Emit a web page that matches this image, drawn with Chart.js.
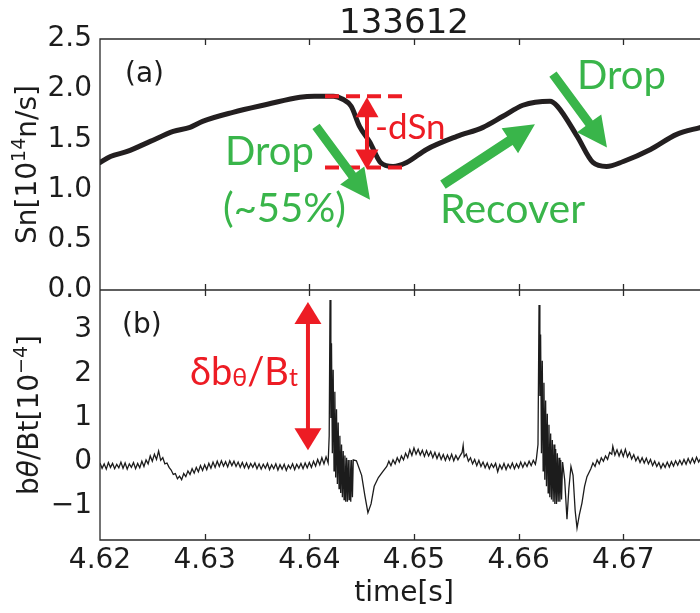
<!DOCTYPE html>
<html>
<head>
<meta charset="utf-8">
<script src="https://cdn.jsdelivr.net/npm/chart.js@4"></script>
<style>
  html, body { margin: 0; padding: 0; background: #fff; }
  #wrap { width: 700px; height: 613px; }
</style>
</head>
<body>
<div id="wrap"><canvas id="c" width="700" height="613"></canvas></div>
<script>
const SHOT = '133612';

// (a) neutron rate Sn [1e14 n/s]
const snTime = [4.6200, 4.6210, 4.6226, 4.6248, 4.6270, 4.6286, 4.6298, 4.6327, 4.6360, 4.6391,
  4.6405, 4.6423, 4.6432, 4.6440, 4.6448, 4.6458, 4.6468, 4.6480, 4.6493, 4.6512,
  4.6541, 4.6566, 4.6585, 4.6604, 4.6630, 4.6637, 4.6656, 4.6671, 4.6684, 4.6700,
  4.6726, 4.6751, 4.6774];
const snVal = [1.27, 1.33, 1.38, 1.48, 1.58, 1.62, 1.68, 1.77, 1.85, 1.92,
  1.93, 1.93, 1.90, 1.83, 1.63, 1.47, 1.27, 1.23, 1.27, 1.40,
  1.53, 1.62, 1.73, 1.84, 1.88, 1.83, 1.53, 1.27, 1.23, 1.28,
  1.40, 1.55, 1.62];

// (b) b_theta/Bt [1e-4]
const bTime = [
  // quiet stretch before the first burst
  4.6200, 4.6202, 4.6204, 4.6206, 4.6208, 4.6210, 4.6212, 4.6214, 4.6216, 4.6218,
  4.6220, 4.6222, 4.6224, 4.6226, 4.6228, 4.6230, 4.6232, 4.6234, 4.6236, 4.6238,
  4.6240, 4.6242, 4.6244, 4.6246, 4.6248, 4.6250, 4.6252, 4.6254, 4.6256, 4.6258,
  4.6260, 4.6262, 4.6264, 4.6266, 4.6268, 4.6270, 4.6272, 4.6274, 4.6276, 4.6278,
  4.6280, 4.6282, 4.6284, 4.6286, 4.6288, 4.6290, 4.6292, 4.6294, 4.6296, 4.6298,
  4.6300, 4.6302, 4.6304, 4.6306, 4.6308, 4.6310, 4.6312, 4.6314, 4.6316, 4.6318,
  4.6320, 4.6322, 4.6324, 4.6326, 4.6328, 4.6330, 4.6332, 4.6334, 4.6336, 4.6338,
  4.6340, 4.6342, 4.6344, 4.6346, 4.6348, 4.6350, 4.6352, 4.6354, 4.6356, 4.6358,
  4.6360, 4.6362, 4.6364, 4.6366, 4.6368, 4.6370, 4.6372, 4.6374, 4.6376, 4.6378,
  4.6380, 4.6382, 4.6384, 4.6386, 4.6388, 4.6390, 4.6392, 4.6394, 4.6396, 4.6398,
  4.6400, 4.6402, 4.6404, 4.6406, 4.6408, 4.6410, 4.6412, 4.6414, 4.6416, 4.6418,
  // first burst
  4.64190, 4.64198, 4.64206, 4.64212, 4.64220, 4.64228, 4.64236, 4.64244, 4.64252, 4.64260,
  4.64268, 4.64276, 4.64284, 4.64292, 4.64300, 4.64308, 4.64316, 4.64324, 4.64332, 4.64340,
  4.64348, 4.64356, 4.64364, 4.64372, 4.64380, 4.64388, 4.64396, 4.64404, 4.64412, 4.64420,
  4.64450, 4.64500, 4.64530, 4.64560, 4.64590, 4.64620, 4.64660, 4.64700,
  // between bursts
  4.6474, 4.6476, 4.6478, 4.6480, 4.6482, 4.6484, 4.6486, 4.6488, 4.6490, 4.6492,
  4.6494, 4.6496, 4.6498, 4.6500, 4.6502, 4.6504, 4.6506, 4.6508, 4.6510, 4.6512,
  4.6514, 4.6516, 4.6518, 4.6520, 4.6522, 4.6524, 4.6526, 4.6528, 4.6530, 4.6532,
  4.6534, 4.6536, 4.6538, 4.6540, 4.6542, 4.6544, 4.6546, 4.6547, 4.6548, 4.6550,
  4.6552, 4.6554, 4.6556, 4.6558, 4.6560, 4.6562, 4.6564, 4.6566, 4.6568, 4.6570,
  4.6572, 4.6574, 4.6576, 4.6578, 4.6580, 4.6582, 4.6584, 4.6586, 4.6588, 4.6590,
  4.6592, 4.6594, 4.6596, 4.6598, 4.6600, 4.6602, 4.6604, 4.6606, 4.6608, 4.6610,
  4.6612, 4.6614, 4.6616, 4.6617,
  // second burst
  4.66185, 4.66195, 4.66203, 4.66210, 4.66218, 4.66226, 4.66234, 4.66242, 4.66250, 4.66258,
  4.66266, 4.66274, 4.66282, 4.66290, 4.66298, 4.66306, 4.66314, 4.66322, 4.66330, 4.66338,
  4.66346, 4.66354, 4.66362, 4.66370, 4.66378, 4.66386, 4.66394, 4.66402, 4.66410, 4.66420,
  4.66440, 4.66462, 4.66480, 4.66500, 4.66520, 4.66540, 4.66558, 4.66580, 4.66605, 4.66630,
  4.66653,
  // tail
  4.6669, 4.6671, 4.6673, 4.6675, 4.6677, 4.6679, 4.6681, 4.6683, 4.6685, 4.6687,
  4.6689, 4.6690, 4.6692, 4.6694, 4.6696, 4.6698, 4.6700, 4.6702, 4.6704, 4.6706,
  4.6708, 4.6710, 4.6712, 4.6714, 4.6716, 4.6718, 4.6720, 4.6722, 4.6724, 4.6726,
  4.6728, 4.6730, 4.6732, 4.6734, 4.6736, 4.6738, 4.6740, 4.6742, 4.6744, 4.6746,
  4.6748, 4.6750, 4.6752, 4.6754, 4.6756, 4.6758, 4.6760, 4.6762, 4.6764, 4.6766,
  4.6768, 4.6770, 4.6772, 4.6774];
const bVal = [
  -0.02, -0.14, -0.04, -0.16, -0.01, -0.12, -0.03, -0.15, -0.05, -0.13,
  0.00, -0.14, -0.02, -0.16, -0.04, -0.12, -0.01, -0.15, -0.03, -0.13,
  0.02, -0.10, 0.05, -0.04, 0.14, 0.02, 0.18, 0.06, 0.25, 0.04,
  0.10, -0.04, -0.02, -0.12, -0.18, -0.28, -0.26, -0.38, -0.32, -0.40,
  -0.26, -0.33, -0.20, -0.28, -0.15, -0.25, -0.12, -0.22, -0.08, -0.19,
  -0.06, -0.17, -0.03, -0.14, 0.00, -0.12, 0.02, -0.10, 0.03, -0.09,
  0.01, -0.11, 0.03, -0.08, 0.02, -0.10, 0.00, -0.12, -0.01, -0.13,
  -0.02, -0.14, -0.03, -0.12, -0.02, -0.15, -0.04, -0.16, -0.05, -0.14,
  -0.03, -0.17, -0.06, -0.15, -0.04, -0.18, -0.06, -0.16, -0.05, -0.19,
  -0.07, -0.15, -0.04, -0.17, -0.05, -0.14, -0.03, -0.15, -0.02, -0.13,
  -0.01, -0.12, 0.02, -0.09, 0.06, -0.06, 0.10, -0.04, 0.12, -0.02,
  0.60, 3.68, 1.00, 2.70, 0.20, 2.10, -0.20, 1.60, -0.35, 1.20,
  -0.50, 0.90, -0.60, 0.60, -0.70, 0.40, -0.80, 0.25, -0.85, 0.15,
  -0.90, 0.10, -0.90, 0.05, -0.85, 0.05, -0.90, 0.05, -0.80, 0.05,
  0.03, -0.30, -0.75, -1.15, -0.95, -0.55, -0.35, -0.22,
  -0.10, 0.02, -0.08, 0.05, -0.04, 0.10, 0.00, 0.14, 0.05, 0.20,
  0.10, 0.28, 0.15, 0.32, 0.18, 0.29, 0.16, 0.27, 0.13, 0.26,
  0.14, 0.24, 0.10, 0.22, 0.08, 0.20, 0.06, 0.17, 0.04, 0.16,
  0.05, 0.18, 0.03, 0.15, 0.05, 0.14, 0.22, 0.38, 0.12, 0.18,
  0.02, 0.10, -0.04, 0.06, -0.08, 0.04, -0.10, 0.00, -0.13, -0.02,
  -0.15, -0.04, -0.12, -0.03, -0.22, -0.06, -0.16, -0.03, -0.17, -0.05,
  -0.14, -0.02, -0.15, -0.04, -0.13, 0.00, -0.12, -0.01, -0.10, 0.02,
  -0.08, 0.04, -0.05, 0.08,
  0.40, 3.57, 1.50, 2.90, 0.20, 2.30, -0.20, 1.80, -0.40, 1.40,
  -0.55, 1.10, -0.70, 0.85, -0.80, 0.65, -0.85, 0.50, -0.90, 0.40,
  -0.95, 0.30, -0.95, 0.20, -0.90, 0.10, -0.90, 0.05, -0.85, 0.00,
  -0.40, -1.30, -0.60, -0.10, -0.30, -1.10, -1.50, -1.20, -0.93, -0.55,
  -0.33,
  -0.15, -0.02, -0.10, 0.05, -0.04, 0.10, 0.02, 0.14, 0.06, 0.22,
  0.18, 0.36, 0.16, 0.28, 0.14, 0.27, 0.13, 0.29, 0.12, 0.22,
  0.07, 0.17, 0.03, 0.12, -0.01, 0.10, -0.02, 0.09, -0.04, 0.06,
  -0.08, 0.02, -0.10, -0.01, -0.14, -0.03, -0.12, 0.00, -0.11, 0.01,
  -0.09, 0.03, -0.07, 0.04, -0.06, 0.06, -0.05, 0.08, -0.03, 0.09,
  -0.02, 0.11, 0.00, 0.09];

const xTicks = [4.62, 4.63, 4.64, 4.65, 4.66, 4.67];
const snTicks = [0, 0.5, 1.0, 1.5, 2.0, 2.5];
const bTicks = [-1, 0, 1, 2, 3];

const GREEN = '#39b54a';
const RED = '#ed1c24';
const INK = '#1c1c1c';
const MPL = 'DejaVu Sans';
const NOTE = 'Lato';

function fmtMinus(v) { return v < 0 ? '\u2212' + Math.abs(v) : String(v); }

// draw a row of text pieces (for sub/superscripts)
function runs(ctx, parts, x, y, align) {
  let w = 0;
  parts.forEach(p => { ctx.font = p.f; p.w = ctx.measureText(p.t).width; w += p.w; });
  let cx = align === 'center' ? x - w / 2 : x;
  parts.forEach(p => { ctx.font = p.f; ctx.fillText(p.t, cx, y + (p.dy || 0)); cx += p.w; });
}

function blockArrow(ctx, x0, y0, x1, y1, shaft, headW, headL, color) {
  const dx = x1 - x0, dy = y1 - y0, L = Math.hypot(dx, dy);
  const ux = dx / L, uy = dy / L, nx = -uy, ny = ux;
  const bx = x1 - ux * headL, by = y1 - uy * headL;
  ctx.beginPath();
  ctx.moveTo(x0 + nx * shaft / 2, y0 + ny * shaft / 2);
  ctx.lineTo(bx + nx * shaft / 2, by + ny * shaft / 2);
  ctx.lineTo(bx + nx * headW / 2, by + ny * headW / 2);
  ctx.lineTo(x1, y1);
  ctx.lineTo(bx - nx * headW / 2, by - ny * headW / 2);
  ctx.lineTo(bx - nx * shaft / 2, by - ny * shaft / 2);
  ctx.lineTo(x0 - nx * shaft / 2, y0 - ny * shaft / 2);
  ctx.closePath();
  ctx.fillStyle = color;
  ctx.fill();
}

function doubleArrow(ctx, x, yTop, yBot, shaft, headW, headL, color) {
  ctx.fillStyle = color;
  ctx.fillRect(x - shaft / 2, yTop + headL - 1, shaft, yBot - yTop - 2 * headL + 2);
  ctx.beginPath();
  ctx.moveTo(x, yTop); ctx.lineTo(x + headW / 2, yTop + headL); ctx.lineTo(x - headW / 2, yTop + headL);
  ctx.closePath(); ctx.fill();
  ctx.beginPath();
  ctx.moveTo(x, yBot); ctx.lineTo(x + headW / 2, yBot - headL); ctx.lineTo(x - headW / 2, yBot - headL);
  ctx.closePath(); ctx.fill();
}

const decor = {
  id: 'decor',
  afterDatasetsDraw(chart) {
    const ctx = chart.ctx;
    const { left, right, top, bottom } = chart.chartArea;
    const X = chart.scales.x, A = chart.scales.yTop, B = chart.scales.yBot;
    const px = t => X.getPixelForValue(t);
    const pa = v => A.getPixelForValue(v);
    const pb = v => B.getPixelForValue(v);
    const mid = A.bottom;

    ctx.save();
    // frames
    ctx.strokeStyle = '#2a2a2a';
    ctx.lineWidth = 1.3;
    ctx.beginPath();
    ctx.moveTo(right, top); ctx.lineTo(left, top); ctx.lineTo(left, bottom); ctx.lineTo(right, bottom);
    ctx.moveTo(left, mid); ctx.lineTo(right, mid);
    ctx.stroke();
    // inward x tick marks on every horizontal spine
    ctx.beginPath();
    xTicks.slice(1).forEach(t => {
      const x = Math.round(px(t)) + 0.5;
      ctx.moveTo(x, top); ctx.lineTo(x, top + 6);
      ctx.moveTo(x, mid); ctx.lineTo(x, mid - 6);
      ctx.moveTo(x, mid); ctx.lineTo(x, mid + 6);
      ctx.moveTo(x, bottom); ctx.lineTo(x, bottom - 6);
    });
    ctx.stroke();

    // titles
    ctx.fillStyle = INK;
    ctx.textBaseline = 'alphabetic';
    ctx.textAlign = 'left';
    runs(ctx, [{ t: SHOT, f: `34px "${MPL}"` }], (left + right) / 2 + 4, 33, 'center');
    runs(ctx, [{ t: 'time[s]', f: `28px "${MPL}"` }], (left + right) / 2 + 4, 601, 'center');

    ctx.save();
    ctx.translate(36, (top + mid) / 2);
    ctx.rotate(-Math.PI / 2);
    runs(ctx, [
      { t: 'Sn[10', f: `28px "${MPL}"` },
      { t: '14', f: `19px "${MPL}"`, dy: -11 },
      { t: 'n/s]', f: `28px "${MPL}"` }
    ], 0, 0, 'center');
    ctx.restore();

    ctx.save();
    ctx.translate(38, (mid + bottom) / 2);
    ctx.rotate(-Math.PI / 2);
    runs(ctx, [
      { t: 'b', f: `28px "${MPL}"` },
      { t: '\u03b8', f: `italic 28px "${MPL}"` },
      { t: '/Bt[10', f: `28px "${MPL}"` },
      { t: '\u22124', f: `19px "${MPL}"`, dy: -11 },
      { t: ']', f: `28px "${MPL}"` }
    ], 0, 0, 'center');
    ctx.restore();

    runs(ctx, [{ t: '(a)', f: `28px "${MPL}"` }], px(4.62239), pa(2.07), 'left');
    runs(ctx, [{ t: '(b)', f: `28px "${MPL}"` }], px(4.62210), pb(2.93), 'left');

    // (a) annotations
    ctx.strokeStyle = RED;
    ctx.lineWidth = 4;
    ctx.setLineDash([14, 7]);
    [1.93, 1.22].forEach(v => {
      ctx.beginPath();
      ctx.moveTo(px(4.64150), pa(v)); ctx.lineTo(px(4.64933), pa(v));
      ctx.stroke();
    });
    ctx.setLineDash([]);
    doubleArrow(ctx, px(4.64551), pa(1.92), pa(1.20), 4, 23, 20, RED);
    ctx.fillStyle = RED;
    runs(ctx, [{ t: '-dSn', f: `35px "${NOTE}"` }], px(4.64628), pa(1.50), 'left');

    blockArrow(ctx, px(4.64064), pa(1.63), px(4.64580), pa(0.90), 9, 30, 30, GREEN);
    blockArrow(ctx, px(4.65277), pa(1.05), px(4.66156), pa(1.65), 10, 30, 30, GREEN);
    blockArrow(ctx, px(4.66328), pa(2.15), px(4.66844), pa(1.42), 9, 30, 30, GREEN);
    ctx.fillStyle = GREEN;
    runs(ctx, [{ t: 'Drop', f: `40px "${NOTE}"` }], px(4.63194), pa(1.25), 'left');
    runs(ctx, [{ t: '(~55%)', f: `40px "${NOTE}"` }], px(4.63175), pa(0.68), 'left');
    runs(ctx, [{ t: 'Recover', f: `41px "${NOTE}"` }], px(4.65249), pa(0.67), 'left');
    runs(ctx, [{ t: 'Drop', f: `40px "${NOTE}"` }], px(4.66558), pa(2.00), 'left');

    // (b) annotations
    doubleArrow(ctx, px(4.63987), pb(3.64), pb(0.27), 4, 27, 22, RED);
    ctx.fillStyle = RED;
    runs(ctx, [
      { t: '\u03b4b', f: `38px "${NOTE}"` },
      { t: '\u03b8', f: `25px "${NOTE}"`, dy: 1 },
      { t: '/B', f: `38px "${NOTE}"` },
      { t: 't', f: `25px "${NOTE}"`, dy: 1 }
    ], px(4.62860), pb(1.75), 'left');
    ctx.restore();
  }
};

const tickFont = { family: MPL, size: 28 };
const setTicks = arr => scale => { scale.ticks = arr.map(v => ({ value: v })); };

new Chart(document.getElementById('c'), {
  type: 'line',
  data: {
    datasets: [
      {
        label: 'Sn',
        data: snTime.map((t, i) => ({ x: t, y: snVal[i] })),
        yAxisID: 'yTop',
        borderColor: '#231f20',
        borderWidth: 5,
        pointRadius: 0,
        cubicInterpolationMode: 'monotone',
        borderCapStyle: 'round',
        borderJoinStyle: 'round'
      },
      {
        label: 'btheta/Bt',
        data: bTime.map((t, i) => ({ x: t, y: bVal[i] })),
        yAxisID: 'yBot',
        borderColor: INK,
        borderWidth: 1.3,
        pointRadius: 0,
        tension: 0
      }
    ]
  },
  options: {
    responsive: false,
    animation: false,
    devicePixelRatio: 1,
    layout: { padding: { top: 39, right: 0, left: 0, bottom: 0 } },
    plugins: { legend: { display: false }, tooltip: { enabled: false } },
    scales: {
      x: {
        type: 'linear',
        min: 4.62,
        max: 4.67733,
        afterBuildTicks: setTicks(xTicks),
        afterFit: s => { s.height = 73; },
        grid: { display: false, drawTicks: false },
        border: { display: false },
        ticks: { font: tickFont, color: INK, padding: 4, maxRotation: 0, autoSkip: false,
          callback: v => v.toFixed(2) }
      },
      yBot: {
        type: 'linear',
        position: 'left',
        stack: 'panels',
        stackWeight: 250,
        min: -1.77,
        max: 3.91,
        afterBuildTicks: setTicks(bTicks),
        afterFit: s => { s.width = 100; },
        grid: { display: false, drawTicks: false },
        border: { display: false },
        ticks: { font: tickFont, color: INK, padding: 8, autoSkip: false, callback: v => fmtMinus(v) }
      },
      yTop: {
        type: 'linear',
        position: 'left',
        stack: 'panels',
        stackWeight: 251,
        min: 0,
        max: 2.5,
        afterBuildTicks: setTicks(snTicks),
        afterFit: s => { s.width = 100; },
        grid: { display: false, drawTicks: false },
        border: { display: false },
        ticks: { font: tickFont, color: INK, padding: 8, autoSkip: false, callback: v => v.toFixed(1) }
      }
    }
  },
  plugins: [decor]
});
</script>
</body>
</html>
